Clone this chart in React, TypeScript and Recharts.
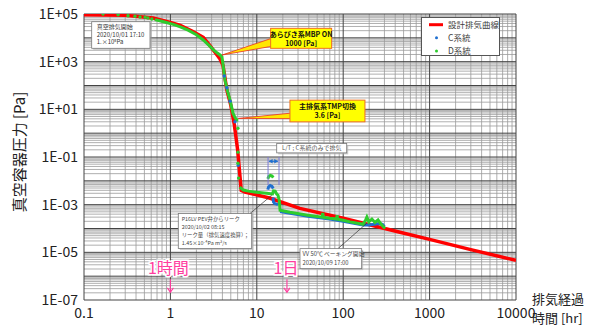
import React from 'react';
import { ComposedChart, Line, XAxis, YAxis, ReferenceLine, ReferenceDot, Legend, Label } from 'recharts';

const FONT = "'Noto Sans CJK JP', 'Noto Sans', sans-serif";
const RED = '#ff0000';
const GREEN = '#2ecc2e';
const BLUE = '#1f6fd0';
const PINK = '#ff3d9e';

const X_TICKS = [0.1, 1, 10, 100, 1000, 10000];
const X_TICK_LABELS = ['0.1', '1', '10', '100', '1000', '10000'];
const Y_TICKS = [1e-7, 1e-5, 1e-3, 1e-1, 1e1, 1e3, 1e5];
const Y_TICK_LABELS = ['1E-07', '1E-05', '1E-03', '1E-01', '1E+01', '1E+03', '1E+05'];

// 設計排気曲線
const DESIGN_T = [0.1, 0.3, 0.63, 1, 1.3, 1.8, 2.4, 2.9, 3.4, 3.75, 4.06, 4.5, 5.0, 5.5, 6.0, 6.6, 7.3, 14, 31.5, 100, 454, 1000, 3000, 10000];
const DESIGN_P = [9.3e4, 8.8e4, 6.8e4, 4.4e4, 3.3e4, 1.9e4, 1.05e4, 4.5e3, 2.1e3, 1.3e3, 700, 65, 15, 2.2, 0.2, 4e-3, 3.4e-3, 1.9e-3, 7e-4, 2.7e-4, 7e-5, 3.5e-5, 1.3e-5, 4.6e-6];

// D系統 (green)
const D_DOT_T = [0.166, 0.248, 0.323, 0.389, 0.445, 0.51, 0.55, 0.61, 6.05, 6.05, 6.05, 6.15];
const D_DOT_P = [1e5, 9.3e4, 8.5e4, 8e4, 7.5e4, 7.3e4, 6.8e4, 6.2e4, 1.6, 0.16, 0.055, 0.013];
const D_SEG1_T = [0.66, 0.75, 0.9, 1.1, 1.3, 1.6, 2.0, 2.38, 2.8, 3.2, 3.5, 3.75, 3.95, 4.1, 4.28, 4.6, 4.9, 5.3, 5.6, 5.85, 6.1];
const D_SEG1_P = [5.8e4, 5.2e4, 4.4e4, 3.6e4, 2.9e4, 2.1e4, 1.35e4, 8.3e3, 4.8e3, 3e3, 2.3e3, 1.9e3, 1.6e3, 600, 170, 55, 24.5, 6.9, 4.5, 3.6, 3.6];
const D_SEG2_T = [6.35, 7.0, 8, 10, 13, 14.5, 15.2, 15.6, 16.3, 17.0, 17.6, 18.2, 18.6, 24.2, 39, 50, 57, 58, 59, 70, 84, 85, 86, 100, 120, 170, 182, 188, 198, 215, 233, 253, 275, 305];
const D_SEG2_P = [5.4e-3, 4.1e-3, 3.7e-3, 3.3e-3, 3.0e-3, 2.9e-3, 2.85e-3, 3.8e-3, 3.7e-3, 2.8e-3, 2.5e-3, 1.5e-3, 5.8e-4, 4.8e-4, 3.6e-4, 3.2e-4, 3.0e-4, 4.5e-4, 2.95e-4, 2.7e-4, 2.5e-4, 3.6e-4, 2.45e-4, 2.2e-4, 1.9e-4, 1.5e-4, 2.3e-4, 3e-4, 1.9e-4, 2.5e-4, 1.8e-4, 2.3e-4, 1.5e-4, 1e-4];
const D_ARC_T = [13.4, 13.8, 14.4, 15.0, 15.5];
const D_ARC_P = [1.2e-2, 1.55e-2, 1.7e-2, 1.6e-2, 1.35e-2];

// C系統 (blue)
const C_DOT_T = [4.2, 4.5, 4.9, 5.6, 6.1];
const C_DOT_P = [250, 80, 22, 3, 0.045];
const C_ARC1_T = [13.4, 13.7, 14.3, 15.0, 15.5];
const C_ARC1_P = [4.3e-3, 5.6e-3, 6.3e-3, 5.8e-3, 4.8e-3];
const C_ARC2_T = [15.4, 15.6, 16.2, 17.0, 17.6];
const C_ARC2_P = [2e-3, 1.3e-3, 1.1e-3, 1.05e-3, 1.0e-3];
const C_TAIL_T = [18.6, 24.2, 39, 70, 100, 170, 200, 260, 285, 300];
const C_TAIL_P = [5.2e-4, 4.4e-4, 3.3e-4, 2.5e-4, 2e-4, 1.4e-4, 1.4e-4, 1.6e-4, 1.5e-4, 1.2e-4];

const pts = (ts: number[], ps: number[]) => ts.map((t, i) => ({ t, p: ps[i] }));

const gridX: { v: number; major: boolean }[] = [];
for (let e = -1; e <= 4; e++) {
  const b = Math.pow(10, e);
  gridX.push({ v: b, major: true });
  if (e < 4) for (let m = 2; m <= 9; m++) gridX.push({ v: m * b, major: false });
}
const gridY: { v: number; major: boolean }[] = [];
for (let e = -7; e <= 5; e++) {
  const b = Math.pow(10, e);
  gridY.push({ v: b, major: true });
  if (e < 5) for (let m = 2; m <= 9; m++) gridY.push({ v: m * b, major: false });
}

const fmtY = (v: number) => {
  const i = Y_TICKS.findIndex((x) => Math.abs(Math.log10(x) - Math.log10(v)) < 1e-6);
  return i >= 0 ? Y_TICK_LABELS[i] : '';
};
const fmtX = (v: number) => {
  const i = X_TICKS.findIndex((x) => Math.abs(Math.log10(x) - Math.log10(v)) < 1e-6);
  return i >= 0 ? X_TICK_LABELS[i] : '';
};

const Shadow = ({ x, y, w, h }: any) => (
  <rect x={x + 1.5} y={y + 1.5} width={w} height={h} fill="#b8b8b8" opacity={0.7} />
);

const startBox = (p: any) => {
  const bx = p.cx + 7.7, by = p.cy + 7.7, w = 58.3, h = 26.6;
  return (
    <g fontFamily={FONT} fontSize={6} fill="#333">
      <Shadow x={bx} y={by} w={w} h={h} />
      <rect x={bx} y={by} width={w} height={h} fill="#fff" stroke="#777" strokeWidth={0.8} />
      <text x={bx + 5} y={by + 6.8}>真空排気開始</text>
      <text x={bx + 5} y={by + 14.8}>2020/10/01 17:10</text>
      <text x={bx + 5} y={by + 22.3}>1.×10⁵Pa</text>
    </g>
  );
};

const mbpCallout = (p: any) => {
  const { cx, cy } = p;
  const bx = cx + 48.7, by = cy - 26.7, w = 61, h = 20;
  return (
    <g fontFamily={FONT}>
      <polygon points={`${cx},${cy} ${bx + 1},${by + 10} ${bx + 1},${by + 18}`} fill="#ffe600" stroke="#e83020" strokeWidth={0.8} />
      <rect x={bx} y={by} width={w} height={h} fill="#ffff00" stroke="#f07020" strokeWidth={1} />
      <text x={bx + w / 2} y={by + 8.6} textAnchor="middle" fontSize={7} fontWeight="bold" fill="#111">あらびき系MBP ON</text>
      <text x={bx + w / 2} y={by + 17.4} textAnchor="middle" fontSize={7} fontWeight="bold" fill="#111">1000 [Pa]</text>
    </g>
  );
};

const tmpCallout = (p: any) => {
  const { cx, cy } = p;
  const bx = cx + 51.7, by = cy - 18.3, w = 75, h = 21.7;
  return (
    <g fontFamily={FONT}>
      <polygon points={`${cx},${cy} ${bx + 1},${by + 13} ${bx + 1},${by + 18.5}`} fill="#ffe600" stroke="#e83020" strokeWidth={0.8} />
      <rect x={bx} y={by} width={w} height={h} fill="#ffff00" stroke="#f07020" strokeWidth={1} />
      <text x={bx + w / 2} y={by + 8.8} textAnchor="middle" fontSize={7} fontWeight="bold" fill="#111">主排気系TMP切換</text>
      <text x={bx + w / 2} y={by + 18} textAnchor="middle" fontSize={7} fontWeight="bold" fill="#111">3.6 [Pa]</text>
    </g>
  );
};

const ltBox = (p: any) => {
  const bx = p.cx, by = p.cy, w = 70, h = 9.4;
  return (
    <g fontFamily={FONT}>
      <Shadow x={bx} y={by} w={w} h={h} />
      <rect x={bx} y={by} width={w} height={h} fill="#fff" stroke="#777" strokeWidth={0.8} />
      <text x={bx + w / 2} y={by + 6.8} textAnchor="middle" fontSize={6} fill="#555">L/T ; C系統のみで排気</text>
    </g>
  );
};

const leakBox = (p: any) => {
  const bx = p.cx, by = p.cy, w = 73.4, h = 35;
  return (
    <g fontFamily={FONT} fontSize={5.4} fill="#444">
      <line x1={bx + 71.7} y1={by} x2={bx + 93.4} y2={by - 18.3} stroke="#333" strokeWidth={0.7} />
      <Shadow x={bx} y={by} w={w} h={h} />
      <rect x={bx} y={by} width={w} height={h} fill="#fff" stroke="#777" strokeWidth={0.8} />
      <text x={bx + 3.4} y={by + 7}>P16LV PEV弁からリーク</text>
      <text x={bx + 3.4} y={by + 15.2}>2020/10/02 08:15</text>
      <text x={bx + 3.4} y={by + 23.2}>リーク量（排気速度換算）；</text>
      <text x={bx + 3.4} y={by + 31.4}>1.45×10⁻⁴Pa m³/s</text>
    </g>
  );
};

const vvBox = (p: any) => {
  const bx = p.cx, by = p.cy, w = 61.7, h = 20;
  return (
    <g fontFamily={FONT} fontSize={5.8} fill="#444">
      <line x1={bx + 38} y1={by} x2={bx + 66.7} y2={by - 25.3} stroke="#333" strokeWidth={0.7} />
      <Shadow x={bx} y={by} w={w} h={h} />
      <rect x={bx} y={by} width={w} height={h} fill="#fff" stroke="#777" strokeWidth={0.8} />
      <text x={bx + 2.5} y={by + 7.8}>VV 50℃ ベーキング開始</text>
      <text x={bx + 2.5} y={by + 16.5}>2020/10/09 17:00</text>
    </g>
  );
};

const pinkLabel = (txt: string, dxText: number, dxArrow: number) => (p: any) => {
  const { cx, cy } = p;
  const ax = cx + dxArrow;
  return (
    <g fontFamily={FONT}>
      <text x={cx + dxText} y={cy + 6} textAnchor="middle" fontSize={16} fill={PINK} stroke="#fff" strokeWidth={3} paintOrder="stroke">{txt}</text>
      <line x1={ax} y1={cy + 11} x2={ax} y2={cy + 24} stroke={PINK} strokeWidth={1.1} />
      <polyline points={`${ax - 3},${cy + 19.5} ${ax},${cy + 24} ${ax + 3},${cy + 19.5}`} fill="none" stroke={PINK} strokeWidth={1.1} />
    </g>
  );
};

const arrowHead = (dir: number) => (p: any) => {
  const { cx, cy } = p;
  return <polygon points={`${cx},${cy} ${cx - dir * 4},${cy - 2.2} ${cx - dir * 4},${cy + 2.2}`} fill={BLUE} />;
};

const LegendBox = () => (
  <div style={{ width: 79, height: 39, boxSizing: 'border-box', border: '1px solid #555', background: '#fff', fontFamily: FONT, fontSize: 8.5, color: '#404040' }}>
    <svg width={77} height={37} style={{ display: 'block' }}>
      <line x1={7} y1={6.7} x2={21} y2={6.7} stroke={RED} strokeWidth={3} />
      <text x={26} y={9.6} fontSize={8.5} fill="#404040" fontFamily={FONT}>設計排気曲線</text>
      <circle cx={14.5} cy={19.7} r={1.5} fill={BLUE} />
      <text x={26} y={22.6} fontSize={8.5} fill="#404040" fontFamily={FONT}>C系統</text>
      <circle cx={14.5} cy={33} r={1.5} fill={GREEN} />
      <text x={26} y={35.9} fontSize={8.5} fill="#404040" fontFamily={FONT}>D系統</text>
    </svg>
  </div>
);

const yTitle = (props: any) => {
  const vb = props.viewBox || { x: 24, y: 14, width: 60, height: 286 };
  const x = vb.x - 6, y = vb.y + vb.height / 2 - 5;
  return (
    <text x={x} y={y} transform={`rotate(-90 ${x} ${y})`} textAnchor="middle" dominantBaseline="central" fontSize={15} fontFamily={FONT} fill="#222">真空容器圧力 [Pa]</text>
  );
};
const xTitle = (props: any) => {
  const vb = props.viewBox || { x: 84, y: 300, width: 432, height: 26 };
  const x = vb.x + vb.width + 16;
  return (
    <g fontFamily={FONT} fontSize={13} fill="#222">
      <text x={x} y={vb.y + 3.5}>排気経過</text>
      <text x={x} y={vb.y + 22.5}>時間 [hr]</text>
    </g>
  );
};

export default function App() {
  return (
    <div style={{ position: 'absolute', left: 0, top: 0, width: 600, height: 326, background: '#fff' }}>
      <ComposedChart width={600} height={326} margin={{ top: 14, right: 84, bottom: 0, left: 24 }}>
        <XAxis type="number" dataKey="t" scale="log" domain={[0.1, 10000]} ticks={X_TICKS} tickFormatter={fmtX}
          allowDataOverflow interval={0} height={26} tickLine={false} axisLine={false} tickSize={6} tickMargin={2}
          tick={{ fontSize: 14, fill: '#222', fontFamily: FONT }}>
          <Label content={xTitle} />
        </XAxis>
        <YAxis type="number" dataKey="p" scale="log" domain={[1e-7, 1e5]} ticks={Y_TICKS} tickFormatter={fmtY}
          allowDataOverflow interval={0} width={60} tickLine={false} axisLine={false} tickSize={4} tickMargin={2}
          tick={{ fontSize: 14, fill: '#222', fontFamily: FONT }}>
          <Label content={yTitle} />
        </YAxis>
        {gridY.filter((g) => !g.major).map((g, i) => (
          <ReferenceLine key={'ym' + i} y={g.v} stroke="#9a9a9a" strokeWidth={0.8} ifOverflow="visible" zIndex={-100} />
        ))}
        {gridX.filter((g) => !g.major).map((g, i) => (
          <ReferenceLine key={'xm' + i} x={g.v} stroke="#9a9a9a" strokeWidth={0.8} ifOverflow="visible" zIndex={-100} />
        ))}
        {gridY.filter((g) => g.major).map((g, i) => (
          <ReferenceLine key={'yM' + i} y={g.v} stroke="#444" strokeWidth={1} ifOverflow="visible" zIndex={-90} />
        ))}
        {gridX.filter((g) => g.major).map((g, i) => (
          <ReferenceLine key={'xM' + i} x={g.v} stroke="#444" strokeWidth={1} ifOverflow="visible" zIndex={-90} />
        ))}

        <Line data={pts(DESIGN_T, DESIGN_P)} dataKey="p" stroke={RED} strokeWidth={3.5} dot={false} isAnimationActive={false} name="設計排気曲線" />

        <Line data={pts(C_DOT_T, C_DOT_P)} dataKey="p" stroke="none" strokeWidth={0} dot={{ r: 1.7, fill: BLUE, stroke: 'none' }} isAnimationActive={false} legendType="none" />
        <Line data={pts(C_ARC1_T, C_ARC1_P)} dataKey="p" stroke={BLUE} strokeWidth={3} dot={false} isAnimationActive={false} legendType="none" />
        <Line data={pts(C_ARC2_T, C_ARC2_P)} dataKey="p" stroke={BLUE} strokeWidth={3} dot={false} isAnimationActive={false} legendType="none" />
        <Line data={pts(C_TAIL_T, C_TAIL_P)} dataKey="p" stroke={BLUE} strokeWidth={3} dot={false} isAnimationActive={false} legendType="none" />

        <Line data={pts(D_DOT_T, D_DOT_P)} dataKey="p" stroke="none" strokeWidth={0} dot={{ r: 1.7, fill: GREEN, stroke: 'none' }} isAnimationActive={false} legendType="none" />
        <Line data={pts(D_SEG1_T, D_SEG1_P)} dataKey="p" stroke={GREEN} strokeWidth={3} dot={false} isAnimationActive={false} legendType="none" />
        <Line data={pts(D_SEG2_T, D_SEG2_P)} dataKey="p" stroke={GREEN} strokeWidth={3} dot={false} isAnimationActive={false} legendType="none" />
        <Line data={pts(D_ARC_T, D_ARC_P)} dataKey="p" stroke={GREEN} strokeWidth={3} dot={false} isAnimationActive={false} legendType="none" />

        {/* L/T bracket */}
        <ReferenceLine segment={[{ x: 13.5, y: 0.1 }, { x: 13.5, y: 6.6e-3 }]} stroke="#7b7bd6" strokeWidth={1} ifOverflow="visible" zIndex={900} />
        <ReferenceLine segment={[{ x: 18.07, y: 0.1 }, { x: 18.07, y: 6.6e-3 }]} stroke="#7b7bd6" strokeWidth={1} ifOverflow="visible" zIndex={900} />
        <ReferenceLine segment={[{ x: 13.9, y: 0.066 }, { x: 17.5, y: 0.066 }]} stroke={BLUE} strokeWidth={1.2} ifOverflow="visible" zIndex={900} />
        <ReferenceDot x={13.7} y={0.066} r={1} ifOverflow="visible" shape={arrowHead(-1)} zIndex={900} />
        <ReferenceDot x={17.7} y={0.066} r={1} ifOverflow="visible" shape={arrowHead(1)} zIndex={900} />

        <ReferenceDot x={0.1} y={1e5} r={1} ifOverflow="visible" shape={startBox} zIndex={900} />
        <ReferenceDot x={3.95} y={1.9e3} r={1} ifOverflow="visible" shape={mbpCallout} zIndex={900} />
        <ReferenceDot x={6.1} y={4.15} r={1} ifOverflow="visible" shape={tmpCallout} zIndex={900} />
        <ReferenceDot x={17.0} y={0.369} r={1} ifOverflow="visible" shape={ltBox} zIndex={900} />
        <ReferenceDot x={1.234} y={4.23e-4} r={1} ifOverflow="visible" shape={leakBox} zIndex={900} />
        <ReferenceDot x={31.6} y={1.43e-5} r={1} ifOverflow="visible" shape={vvBox} zIndex={900} />
        <ReferenceDot x={1} y={2.13e-6} r={1} ifOverflow="visible" shape={pinkLabel('1時間', -2, 0)} zIndex={900} />
        <ReferenceDot x={24} y={2.13e-6} r={1} ifOverflow="visible" shape={pinkLabel('1日', -3.7, -2.7)} zIndex={900} />

        <Legend layout="vertical" align="center" verticalAlign="middle"
          wrapperStyle={{ left: 421, top: 17, width: 79, height: 39 }} content={() => <LegendBox />} />
      </ComposedChart>
    </div>
  );
}
